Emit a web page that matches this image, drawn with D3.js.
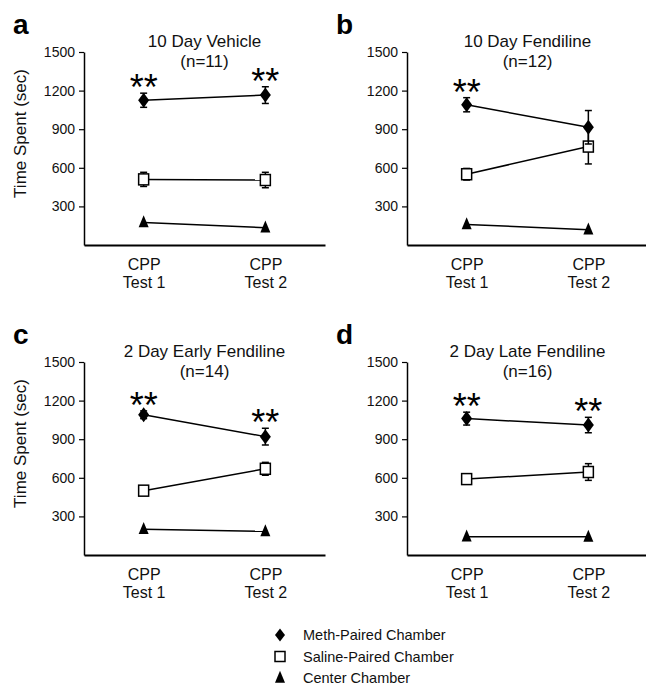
<!DOCTYPE html>
<html>
<head>
<meta charset="utf-8">
<script src="https://cdn.jsdelivr.net/npm/d3@7"></script>
<style>
  body { margin: 0; background: #fff; }
  svg { font-family: "Liberation Sans", Arial, sans-serif; }
</style>
</head>
<body>
<script>
const panelLetters = ["a", "b", "c", "d"];
const titles = ["10 Day Vehicle", "10 Day Fendiline", "2 Day Early Fendiline", "2 Day Late Fendiline"];
const nLabels = ["(n=11)", "(n=12)", "(n=14)", "(n=16)"];
const tests = ["Test 1", "Test 2"];
const yTicks = [300, 600, 900, 1200, 1500];

// means and error bars, [Test 1, Test 2] per panel
const methMean = [[1125, 1165], [1090, 915], [1090, 920], [1060, 1010]];
const methErr = [[55, 65], [55, 130], [30, 65], [50, 60]];
const salineMean = [[510, 505], [550, 765], [500, 670], [590, 645]];
const salineErr = [[55, 60], [45, 135], [30, 50], [35, 65]];
const centerMean = [[175, 135], [160, 118], [200, 184], [142, 141]];
const centerErr = [[0, 0], [0, 0], [0, 0], [0, 0]];
const stars = [[true, true], [true, false], [true, true], [true, true]];

const legendItems = ["Meth-Paired Chamber", "Saline-Paired Chamber", "Center Chamber"];

const svg = d3.select("body").append("svg")
    .attr("width", 646)
    .attr("height", 686);

// panel origins = top-left corner of the plot area (y axis at 1500)
const origins = [[84, 52], [407, 52], [84, 362], [407, 362]];
const plotW = 241, plotH = 193;

const x = d3.scalePoint().domain(tests).range([0, plotW]).padding(0.49);
const y = d3.scaleLinear().domain([0, 1500]).range([plotH, 0]);

const diamond = (w, h) => `M0,${-h / 2}L${w / 2},0L0,${h / 2}L${-w / 2},0Z`;
const triangle = (w, h) => `M0,${-h * 0.6}L${w / 2},${h * 0.4}L${-w / 2},${h * 0.4}Z`;

function drawSeries(g, means, errs, kind) {
    const pts = tests.map((t, i) => ({ t: t, m: means[i], e: errs[i] }));

    // error bars
    pts.filter(d => d.e > 0).forEach(d => {
        const cx = x(d.t);
        g.append("line")
            .attr("x1", cx).attr("x2", cx)
            .attr("y1", y(d.m + d.e)).attr("y2", y(d.m - d.e))
            .attr("stroke", "#000").attr("stroke-width", 1.5);
        [d.m + d.e, d.m - d.e].forEach(v => {
            g.append("line")
                .attr("x1", cx - 3.5).attr("x2", cx + 3.5)
                .attr("y1", y(v)).attr("y2", y(v))
                .attr("stroke", "#000").attr("stroke-width", 1.5);
        });
    });

    g.append("path")
        .datum(pts)
        .attr("fill", "none")
        .attr("stroke", "#000")
        .attr("stroke-width", 1.5)
        .attr("d", d3.line().x(d => x(d.t)).y(d => y(d.m)));

    pts.forEach(d => {
        const tr = `translate(${x(d.t)},${y(d.m)})`;
        if (kind === "meth") {
            g.append("path").attr("d", diamond(11, 15)).attr("transform", tr).attr("fill", "#000");
        } else if (kind === "saline") {
            g.append("rect")
                .attr("x", x(d.t) - 5).attr("y", y(d.m) - 5.5)
                .attr("width", 10).attr("height", 11)
                .attr("fill", "#fff").attr("stroke", "#000").attr("stroke-width", 1.5);
        } else {
            g.append("path").attr("d", triangle(10, 12)).attr("transform", tr).attr("fill", "#000");
        }
    });
}

panelLetters.forEach((letter, p) => {
    const [ox, oy] = origins[p];
    const g = svg.append("g").attr("transform", `translate(${ox},${oy})`);

    // y axis
    const yAxis = g.append("g")
        .call(d3.axisLeft(y).tickValues(yTicks).tickFormat(d3.format("d"))
            .tickSize(5).tickSizeOuter(0).tickPadding(4));
    yAxis.select(".domain").attr("stroke-width", 1.5);
    yAxis.selectAll(".tick line").attr("stroke-width", 1.2);
    yAxis.selectAll(".tick text")
        .attr("font-size", 14)
        .attr("font-family", "'Liberation Sans', Arial, sans-serif")
        .attr("fill", "#111");

    // x axis
    const xAxis = g.append("g")
        .attr("transform", `translate(0,${plotH})`)
        .call(d3.axisBottom(x).tickSize(0).tickSizeOuter(0).tickFormat(""));
    xAxis.select(".domain").attr("stroke-width", 2);
    xAxis.selectAll(".tick").each(function(d) {
        const t = d3.select(this);
        t.append("text").attr("y", 25).attr("text-anchor", "middle")
            .attr("font-size", 16).attr("fill", "#111").text("CPP");
        t.append("text").attr("y", 43).attr("text-anchor", "middle")
            .attr("font-size", 16).attr("fill", "#111").text(d);
    });

    // y label on left panels
    if (p % 2 === 0) {
        svg.append("text")
            .attr("transform", `translate(26,${oy + plotH / 2 - 15}) rotate(-90)`)
            .attr("text-anchor", "middle")
            .attr("font-size", 17)
            .attr("fill", "#111")
            .text("Time Spent (sec)");
    }

    // panel letter
    svg.append("text")
        .attr("x", ox - 71).attr("y", oy - 18)
        .attr("font-size", 28).attr("font-weight", "bold")
        .text(letter);

    // title
    const mid = (x(tests[0]) + x(tests[1])) / 2;
    g.append("text").attr("x", mid).attr("y", -5)
        .attr("text-anchor", "middle").attr("font-size", 17).attr("fill", "#111")
        .text(titles[p]);
    g.append("text").attr("x", mid).attr("y", 15)
        .attr("text-anchor", "middle").attr("font-size", 17).attr("fill", "#111")
        .text(nLabels[p]);

    drawSeries(g, centerMean[p], centerErr[p], "center");
    drawSeries(g, salineMean[p], salineErr[p], "saline");
    drawSeries(g, methMean[p], methErr[p], "meth");

    // significance stars
    tests.forEach((t, i) => {
        if (!stars[p][i]) return;
        g.append("text")
            .attr("x", x(t)).attr("y", y(methMean[p][i] + methErr[p][i]) + 7)
            .attr("text-anchor", "middle")
            .attr("font-size", 36)
            .text("**");
    });
});

// legend
const legend = svg.append("g").attr("transform", "translate(280,635)");
legendItems.forEach((label, i) => {
    const row = legend.append("g").attr("transform", `translate(0,${i * 21.5})`);
    if (i === 0) {
        row.append("path").attr("d", diamond(10, 13)).attr("fill", "#000");
    } else if (i === 1) {
        row.append("rect").attr("x", -5).attr("y", -5).attr("width", 10).attr("height", 10)
            .attr("fill", "#fff").attr("stroke", "#000").attr("stroke-width", 1.5);
    } else {
        row.append("path").attr("d", triangle(10, 12)).attr("fill", "#000");
    }
    row.append("text").attr("x", 23).attr("y", 5)
        .attr("font-size", 14.5).attr("fill", "#111").text(label);
});
</script>
</body>
</html>
